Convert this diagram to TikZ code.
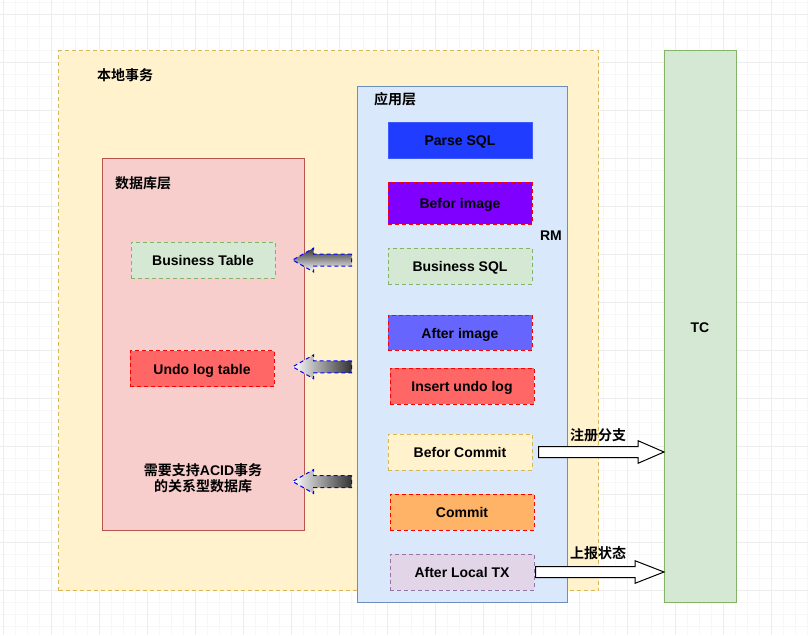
\documentclass[tikz,border=0pt]{standalone}
\usepackage{fontspec}
\setmainfont{Liberation Sans}
\newfontfamily\cjk{Noto Sans CJK SC}[BoldFont={* Bold}]
\usetikzlibrary{calc}

\definecolor{ylwfill}{HTML}{FFF2CC}
\definecolor{ylwline}{HTML}{D6B656}
\definecolor{redfill}{HTML}{F8CECC}
\definecolor{redline}{HTML}{B85450}
\definecolor{bluefill}{HTML}{DAE8FC}
\definecolor{blueline}{HTML}{6C8EBF}
\definecolor{grnfill}{HTML}{D5E8D4}
\definecolor{grnline}{HTML}{82B366}
\definecolor{prpfill}{HTML}{E1D5E7}
\definecolor{prpline}{HTML}{9673A6}
\definecolor{undofill}{HTML}{FF6666}
\definecolor{orgfill}{HTML}{FFB366}
\definecolor{parsefill}{HTML}{1F3CFF}
\definecolor{parseline}{HTML}{3D5AFE}
\definecolor{befimg}{HTML}{7F00FF}
\definecolor{aftimg}{HTML}{6666FF}
\definecolor{gridmajor}{HTML}{EDEDED}
\definecolor{gridminor}{HTML}{F7F7F7}

% horizontal block arrow: style, tail, tip, shaft half, head half, head length (signed)
\newcommand\blockarrow[6]{%
  \path[#1] let \p1=(#2), \p2=(#3) in
    (\x1,{\y1+#4pt}) -- ({\x2-(#6pt)},{\y1+#4pt}) -- ({\x2-(#6pt)},{\y1+#5pt})
    -- (\x2,\y1) -- ({\x2-(#6pt)},{\y1-#5pt}) -- ({\x2-(#6pt)},{\y1-#4pt})
    -- (\x1,{\y1-#4pt}) -- cycle;}

\begin{document}
\begin{tikzpicture}[x=1pt,y=-1pt,
  font=\fontsize{14}{17}\selectfont\bfseries,
  dsh/.style={dash pattern=on 4pt off 3pt},
  layer/.style={line width=1pt, anchor=north west, inner sep=0pt},
  step box/.style={line width=1pt, dsh, minimum width=144pt, minimum height=36pt, inner sep=0pt,
    text height=11.5pt, text depth=0pt},
  gradarrow/.style={draw=blue, line width=1pt, dsh},
  whitearrow/.style={draw=black, fill=white, line width=1pt}]

\useasboundingbox (0,0) rectangle (808,635);

% Background grid
\foreach \x in {3,15,...,807} \draw[gridminor, line width=0.8pt] (\x,0) -- (\x,635);
\foreach \y in {2,14,...,635} \draw[gridminor, line width=0.8pt] (0,\y) -- (808,\y);
\foreach \x in {3,51,...,807} \draw[gridmajor, line width=0.8pt] (\x,0) -- (\x,635);
\foreach \y in {14,62,...,635} \draw[gridmajor, line width=0.8pt] (0,\y) -- (808,\y);

% Layers
\node[layer, fill=ylwfill, draw=ylwline, dsh, minimum width=540pt, minimum height=540pt] (local) at (58,50) {};
\node[layer, fill=redfill, draw=redline, minimum width=202pt, minimum height=372pt] (db) at (102,158) {};
\node[layer, fill=bluefill, draw=blueline, minimum width=210pt, minimum height=516pt] (app) at (357,86) {};
\node[layer, fill=grnfill, draw=grnline, minimum width=72pt, minimum height=552pt] (tc) at (664,50) {};

% Layer labels
\node (local-lbl) at (125,75) {\cjk 本地事务};
\node (db-lbl) at (143,183) {\cjk 数据库层};
\node (app-lbl) at (395,99) {\cjk 应用层};
\node (rm-lbl) at (551,236) {RM};
\node (tc-lbl) at (700,327.5) {TC};

% Database layer
\node[step box, fill=grnfill, draw=grnline] (bt) at (203,260) {Business Table};
\node[step box, fill=undofill, draw=red] (ult) at (202,368.5) {Undo log table};
\node[align=center] (rdb) at (203,478) {{\cjk 需要支持}ACID{\cjk 事务}\\[-1pt]{\cjk 的关系型数据库}};

% Application layer steps
\node[step box, fill=parsefill, draw=parseline, solid] (parse) at (460,140) {Parse SQL};
\node[step box, fill=befimg, draw=red, minimum height=42pt] (bimg) at (460,203) {Befor image};
\node[step box, fill=grnfill, draw=grnline] (bsql) at (460,266) {Business SQL};
\node[step box, fill=aftimg, draw=red, minimum height=35pt] (aimg) at (460,332.5) {After image};
\node[step box, fill=undofill, draw=red] (iul) at (462,386) {Insert undo log};
\node[step box, fill=ylwfill, draw=ylwline] (bc) at (460,452) {Befor Commit};
\node[step box, fill=orgfill, draw=red] (commit) at (462,512) {Commit};
\node[step box, fill=prpfill, draw=prpline] (altx) at (462,572) {After Local TX};

% Arrows from application layer to database layer
\coordinate (bt-tail) at (351.7,260);
\coordinate (bt-tip) at (292.7,260);
\coordinate (ult-tail) at (351.7,366.8);
\coordinate (ult-tip) at (292.7,366.8);
\coordinate (rdb-tail) at (351.7,481.5);
\coordinate (rdb-tip) at (292.7,481.5);
\blockarrow{gradarrow, top color=black!80, bottom color=white}{bt-tail}{bt-tip}{6}{12}{-21}
\blockarrow{gradarrow, left color=white, right color=black!80}{ult-tail}{ult-tip}{6}{12}{-21}
\blockarrow{gradarrow, left color=white, right color=black!80}{rdb-tail}{rdb-tip}{6}{12}{-21}

% Arrows to TC
\coordinate (reg-tail) at ($(bc.east)+(6,0)$);
\coordinate (reg-tip) at (bc.east -| tc.west);
\coordinate (rep-tail) at ($(altx.east)+(1,0)$);
\coordinate (rep-tip) at (altx.east -| tc.west);
\blockarrow{whitearrow}{reg-tail}{reg-tip}{5.5}{11.3}{26}
\blockarrow{whitearrow}{rep-tail}{rep-tip}{5.5}{11.3}{29}
\node (reg-lbl) at (598,435) {\cjk 注册分支};
\node (rep-lbl) at (598,553) {\cjk 上报状态};

\end{tikzpicture}
\end{document}
